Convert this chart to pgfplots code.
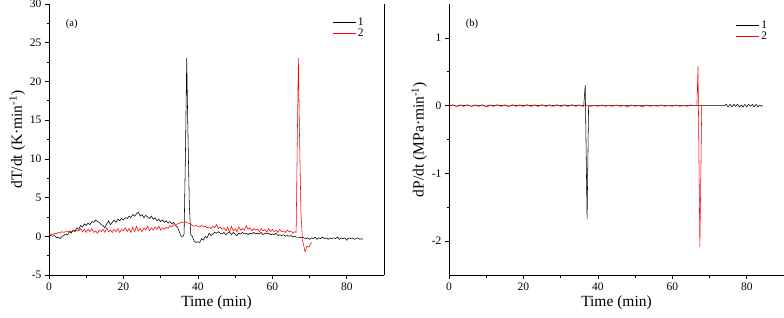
\documentclass[border=0pt]{standalone}
\usepackage{fontspec}
\setmainfont{Liberation Serif}
\usepackage{pgfplots}
\pgfplotsset{compat=1.18}
\pgfplotsset{
  myax/.style={
    scale only axis, width=335pt, height=271pt,
    axis x line*=bottom, axis y line*=left,
    axis line style={-, line width=0.8pt},
    tick align=outside, major tick length=4pt, minor tick length=2.5pt,
    every tick/.style={black, line width=0.6pt},
    xmin=0, xmax=90, xtick={0,20,40,60,80}, minor x tick num=1,
    /pgf/number format/assume math mode=true,
    tick label style={font=\fontsize{11.5}{13}\selectfont},
    label style={font=\fontsize{15.5}{17}\selectfont},
    xlabel={Time (min)},
    xlabel style={yshift=1pt},
    ylabel style={yshift=-2pt},
    legend style={draw=none, fill=none, font=\fontsize{11.5}{13}\selectfont, row sep=-2pt},
    legend cell align=left,
    legend image code/.code={\draw[##1] (0pt,0pt) -- (23pt,0pt);},
    clip=false,
  }
}
\begin{document}
\begin{tikzpicture}
\path[use as bounding box] (-49pt,-42pt) rectangle (735pt,275pt);
\begin{axis}[myax, at={(0pt,0pt)}, anchor=south west,
  ymin=-5, ymax=30, ytick={-5,0,5,10,15,20,25,30}, minor y tick num=1,
  ylabel={dT/dt (K·min\textsuperscript{-1})},
  legend style={at={(0.955,0.964)}, anchor=north east}]
\addplot[black, line width=0.55pt] coordinates {
(0,0.0)(0.5,0.1)(1,0.0)(1.5,0.1)(2,-0.2)(2.5,-0.1)(3,-0.3)(3.5,0.0)(4,0.1)(4.5,0.3)
(5,0.2)(5.5,0.6)(6,0.4)(6.5,0.8)(7,0.7)(7.5,1.1)(8,0.9)(8.5,1.4)(9,1.2)(9.5,1.6)
(10,1.4)(10.5,1.7)(11,1.5)(11.5,1.9)(12,1.8)(12.5,2.1)(13,1.9)(13.5,1.8)(14,1.5)(14.5,1.4)
(15,1.1)(15.5,1.6)(16,2.0)(16.5,1.5)(17,1.8)(17.5,2.1)(18,1.8)(18.5,2.2)(19,2.0)(19.5,2.3)
(20,2.1)(20.5,2.4)(21,2.3)(21.5,2.6)(22,2.4)(22.5,2.8)(23,2.6)(23.5,2.9)(24,3.1)(24.5,2.6)
(25,2.8)(25.5,2.4)(26,2.7)(26.5,2.5)(27,2.3)(27.5,2.6)(28,2.2)(28.5,2.4)(29,2.0)(29.5,2.2)
(30,1.9)(30.5,2.1)(31,1.8)(31.5,2.0)(32,1.7)(32.5,1.9)(33,1.6)(33.5,1.8)(34,1.4)(34.5,1.2)
(35,0.6)(35.5,0.0)(36,0.0)(36.3,0.3)(36.7,12)(37.0,23.0)(37.3,14)(37.7,4)(38.1,0.2)(38.5,0.0)
(39,-0.6)(39.5,-0.8)(40,-0.7)(40.5,-0.8)(41,-0.3)(41.5,-0.5)(42,0.0)(42.5,-0.2)(43,0.4)(43.5,0.1)
(44,0.3)(44.5,0.5)(45,0.4)(45.5,0.6)(46,0.4)(46.5,0.3)(47,0.5)(47.5,0.2)(48,0.4)(48.5,0.6)
(49,0.2)(49.5,0.5)(50,0.3)(50.5,0.1)(51,0.4)(51.5,0.3)(52,0.5)(52.5,0.3)(53,0.4)(53.5,0.2)
(54,0.4)(54.5,0.3)(55,0.5)(55.5,0.3)(56,0.4)(56.5,0.3)(57,0.5)(57.5,0.2)(58,0.4)(58.5,0.3)
(59,0.4)(59.5,0.2)(60,0.3)(60.5,0.2)(61,0.4)(61.5,0.1)(62,0.2)(62.5,0.1)(63,0.2)(63.5,0.0)
(64,0.1)(64.5,0.0)(65,0.1)(65.5,-0.1)(66,0.0)(66.5,-0.1)(67,-0.1)(67.5,-0.2)(68,-0.1)(68.5,-0.2)
(69,-0.3)(69.5,-0.2)(70,-0.4)(70.5,-0.2)(71,-0.3)(71.5,-0.1)(72,-0.4)(72.5,-0.2)(73,-0.3)(73.5,-0.1)
(74,-0.3)(74.5,-0.2)(75,-0.4)(75.5,-0.2)(76,-0.3)(76.5,-0.2)(77,-0.3)(77.5,-0.1)(78,-0.4)(78.5,-0.2)
(79,-0.3)(79.5,-0.2)(80,-0.5)(80.5,-0.2)(81,-0.3)(81.5,-0.2)(82,-0.4)(82.5,-0.3)(83,-0.2)(83.5,-0.4)
(84,-0.3)(84.3,-0.4)};
\addlegendentry{1}
\addplot[red, line width=0.55pt] coordinates {
(0,0.2)(0.5,0.3)(1,0.2)(1.5,0.4)(2,0.3)(2.5,0.5)(3,0.4)(3.5,0.6)(4,0.5)(4.5,0.6)
(5,0.6)(5.5,0.7)(6,0.6)(6.5,0.7)(7,0.6)(7.5,0.8)(8,0.7)(8.5,1.0)(9,0.6)(9.5,0.9)
(10,0.5)(10.5,0.9)(11,0.6)(11.5,1.0)(12,0.5)(12.5,0.7)(13,0.4)(13.5,0.8)(14,0.6)(14.5,0.9)
(15,0.5)(15.5,1.1)(16,0.6)(16.5,0.8)(17,0.5)(17.5,0.9)(18,0.6)(18.5,1.0)(19,0.5)(19.5,0.9)
(20,0.7)(20.5,1.1)(21,0.6)(21.5,1.0)(22,0.5)(22.5,1.2)(23,0.6)(23.5,1.3)(24,0.7)(24.5,1.0)
(25,0.6)(25.5,1.1)(26,0.8)(26.5,1.3)(27,0.7)(27.5,1.1)(28,0.8)(28.5,1.2)(29,0.9)(29.5,1.3)
(30,0.8)(30.5,1.1)(31,0.9)(31.5,1.2)(32,1.0)(32.5,1.4)(33,1.2)(33.5,1.5)(34,1.4)(34.5,1.6)
(35,1.7)(35.5,1.8)(36,1.8)(36.5,1.9)(37,1.8)(37.5,1.7)(38,1.6)(38.5,1.4)(39,1.3)(39.5,1.4)
(40,1.3)(40.5,1.2)(41,1.4)(41.5,1.2)(42,1.3)(42.5,1.1)(43,1.2)(43.5,1.0)(44,1.3)(44.5,1.1)
(45,1.5)(45.5,1.0)(46,1.2)(46.5,0.9)(47,1.1)(47.5,0.7)(48,1.2)(48.5,0.5)(49,1.3)(49.5,0.7)
(50,1.0)(50.5,0.6)(51,1.2)(51.5,0.8)(52,1.0)(52.5,0.8)(53,1.4)(53.5,0.9)(54,1.1)(54.5,0.7)
(55,1.0)(55.5,0.8)(56,0.9)(56.5,0.6)(57,1.0)(57.5,0.7)(58,0.9)(58.5,0.5)(59,1.0)(59.5,0.6)
(60,0.9)(60.5,0.6)(61,0.8)(61.5,0.5)(62,0.9)(62.5,0.6)(63,0.7)(63.5,0.5)(64,0.8)(64.5,0.6)
(65,0.7)(65.5,0.4)(66,0.6)(66.4,0.5)(66.7,12)(67.0,23.0)(67.3,13)(67.7,3)(68.1,-0.5)(68.8,-2.0)
(69.3,-1.3)(69.8,-1.4)(70.3,-1.0)(70.6,-0.8)};
\addlegendentry{2}
\draw[line width=0.8pt] (rel axis cs:1,0) -- (rel axis cs:1,1);
\node[anchor=west, font=\fontsize{10.5}{12}\selectfont] at (rel axis cs:0.04,0.925) {(a)};
\end{axis}
\begin{axis}[myax, at={(400pt,0pt)}, anchor=south west,
  ymin=-2.5, ymax=1.5, ytick={-2,-1,0,1}, minor y tick num=1,
  ylabel={dP/dt (MPa·min\textsuperscript{-1})},
  legend style={at={(0.965,0.954)}, anchor=north east}]
\addplot[black, line width=0.55pt] coordinates {
(0,0)(1,0.01)(2,-0.01)(3,0.01)(4,0.0)(5,0.01)(6,-0.01)(7,0.01)(8,0.0)(9,0.01)
(10,-0.01)(11,0.01)(12,0.0)(13,0.01)(14,0.0)(15,0.01)(16,-0.01)(17,0.01)(18,0.0)(19,0.01)
(20,0.0)(21,0.01)(22,0.0)(23,0.01)(24,0.0)(25,0.01)(26,0.0)(27,0.01)(28,0.0)(29,0.01)
(30,0.0)(31,0.01)(32,0.0)(33,0.01)(34,0.0)(35,0.01)(36,0.0)(36.2,0.0)(36.6,0.30)(37.1,-1.68)
(37.5,0.0)(38,0.0)(74,0.0)(74.5,0.02)(75,-0.02)(75.5,0.02)(76,-0.02)(76.5,0.02)(77,-0.01)(77.5,0.02)
(78,-0.02)(78.5,0.01)(79,-0.02)(79.5,0.02)(80,-0.02)(80.5,0.02)(81,-0.01)(81.5,0.02)(82,-0.02)(82.5,0.02)
(83,-0.02)(83.5,0.01)(84,-0.01)(84.3,0.0)};
\addlegendentry{1}
\addplot[red, line width=0.55pt] coordinates {
(0,-0.01)(1,0.01)(2,-0.01)(3,0.0)(4,-0.01)(5,0.01)(6,-0.01)(7,0.0)(8,-0.01)(9,0.01)
(10,-0.02)(11,0.0)(12,-0.01)(13,0.01)(14,-0.01)(15,0.0)(16,-0.01)(17,0.01)(18,-0.01)(19,0.0)
(20,-0.01)(21,0.01)(22,-0.01)(23,0.0)(24,-0.01)(25,0.01)(26,-0.01)(27,0.0)(28,-0.01)(29,0.01)
(30,-0.01)(31,0.0)(32,-0.01)(33,0.01)(34,-0.01)(35,0.0)(36,-0.01)(37,0.01)(38,-0.01)(39,0.0)
(40,-0.01)(41,0.01)(42,-0.01)(43,0.0)(44,-0.01)(45,0.01)(46,-0.01)(47,0.0)(48,-0.02)(49,0.01)
(50,-0.01)(51,0.0)(52,-0.02)(53,0.01)(54,-0.01)(55,0.0)(56,-0.01)(57,0.01)(58,-0.01)(59,0.0)
(60,-0.01)(61,0.01)(62,-0.01)(63,0.0)(64,-0.01)(65,0.01)(66,0.0)(66.6,0.0)(66.9,0.58)(67.4,-2.09)
(67.9,0.0)(68.3,0.0)};
\addlegendentry{2}
\draw[line width=0.8pt] (rel axis cs:1,0) -- (rel axis cs:1,1);
\node[anchor=west, font=\fontsize{10.5}{12}\selectfont] at (rel axis cs:0.04,0.925) {(b)};
\end{axis}
\end{tikzpicture}
\end{document}
